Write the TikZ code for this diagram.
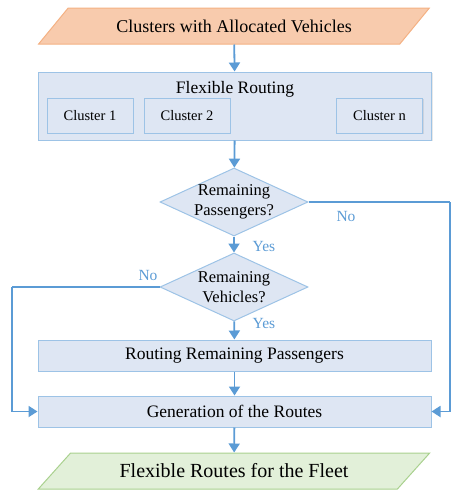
\documentclass[tikz,border=0pt]{standalone}
\usepackage{fontspec}
\setmainfont{Liberation Serif}
\usepackage{tikz}
\usetikzlibrary{shapes.geometric,arrows.meta,shadows}
\definecolor{flow}{HTML}{5B9BD5}
\definecolor{boxfill}{HTML}{DEE6F3}
\definecolor{boxline}{HTML}{9DC3E6}
\definecolor{peach}{HTML}{F8CBAD}
\definecolor{peachline}{HTML}{F4B183}
\definecolor{mint}{HTML}{E2F0D9}
\definecolor{mintline}{HTML}{A9D18E}
\tikzset{
  blk/.style={rectangle, draw=boxline, fill=boxfill, line width=1pt, inner sep=0pt,
    drop shadow={opacity=0.18, shadow xshift=1pt, shadow yshift=-1.2pt}},
  ask/.style={diamond, draw=boxline, fill=boxfill, line width=1pt, inner sep=0pt,
    minimum width=148pt, minimum height=68pt},
  asktext/.style={align=center, inner sep=0pt, font=\fontsize{16.5}{20}\selectfont},
  io/.style={trapezium, trapezium left angle=42, trapezium right angle=138,
    trapezium stretches=true, line width=1pt, minimum width=392pt, minimum height=36pt},
  flowarr/.style={draw=flow, line width=1.8pt, -{Triangle[length=9pt,width=11pt]}},
  flowline/.style={draw=flow, line width=1.8pt},
  ans/.style={text=flow, font=\fontsize{15.5}{18}\selectfont},
}
\begin{document}
\begin{tikzpicture}[x=1pt,y=-1pt]
  \useasboundingbox (0,0) rectangle (452,490);

  % input / output
  \node[io, draw=peachline, fill=peach, font=\fontsize{18}{21}\selectfont] (clusters) at (234,26) {Clusters with Allocated Vehicles};
  \node[io, draw=mintline, fill=mint, font=\fontsize{20}{23}\selectfont] (fleet) at (234,471) {Flexible Routes for the Fleet};

  % routing block with clusters
  \node[blk, minimum width=393pt, minimum height=68pt] (flex) at (235,106) {};
  \node[font=\fontsize{17.5}{20}\selectfont] (flextitle) at (235,89) {Flexible Routing};
  \node[blk, minimum width=86pt, minimum height=35pt, font=\fontsize{14.5}{17}\selectfont] (c1) at (90,115.5) {Cluster 1};
  \node[blk, minimum width=86pt, minimum height=35pt, font=\fontsize{14.5}{17}\selectfont] (c2) at (187,115.5) {Cluster 2};
  \node[blk, minimum width=86pt, minimum height=35pt, font=\fontsize{14.5}{17}\selectfont] (cn) at (379.5,115.5) {Cluster n};

  % decisions
  \node[ask] (pass) at (234,202) {};
  \node[asktext] (passtext) at (234,202) {Remaining\\Passengers?};
  \node[ask] (veh) at (234,287) {};
  \node[asktext] (vehtext) at (234,287) {Remaining\\Vehicles?};

  % steps
  \node[blk, minimum width=393pt, minimum height=31pt, font=\fontsize{17.5}{20}\selectfont] (rest) at (234.5,355.5) {Routing Remaining Passengers};
  \node[blk, minimum width=393pt, minimum height=31pt, font=\fontsize{17.5}{20}\selectfont] (gen) at (234.5,411.5) {Generation of the Routes};

  \coordinate (rturn) at (450,202);
  \coordinate (lturn) at (12,287);

  % connectors
  \draw[flowarr] (clusters) -- (flex);
  \draw[flowarr] (flex) -- (pass);
  \draw[flowarr] (pass) -- (veh);
  \draw[flowarr] (veh) -- (rest);
  \draw[flowarr] (rest) -- (gen);
  \draw[flowarr] (gen) -- (fleet);
  \draw[flowline] (pass.east) -- (rturn);
  \draw[flowarr] (rturn) |- (gen.east);
  \draw[flowline] (veh.west) -- (lturn);
  \draw[flowarr] (lturn) |- (gen.west);

  % answers
  \node[ans] (yes1) at (264,246) {Yes};
  \node[ans] (yes2) at (264,323) {Yes};
  \node[ans] (no1) at (346,216) {No};
  \node[ans] (no2) at (148,275) {No};
\end{tikzpicture}
\end{document}
